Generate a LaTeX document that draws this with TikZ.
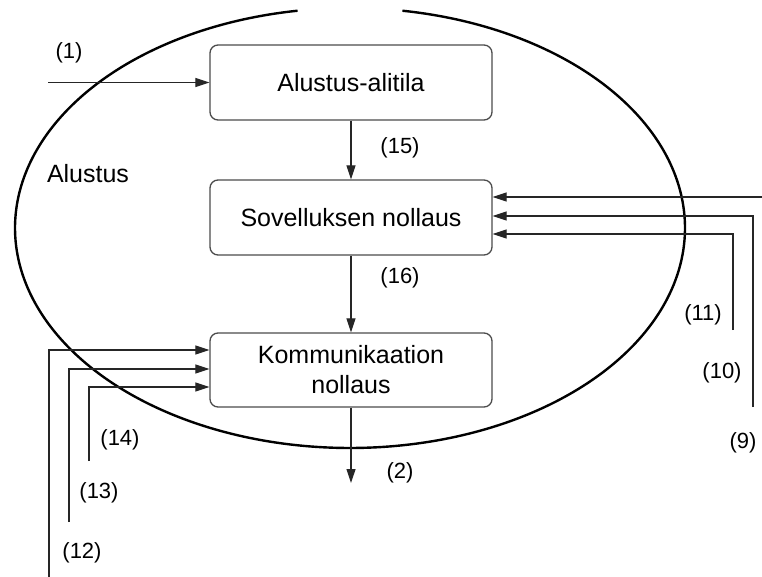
\documentclass[tikz,border=0pt]{standalone}
\usepackage{fontspec}
\setmainfont{Liberation Sans}
\usetikzlibrary{arrows.meta}
\begin{document}
\begin{tikzpicture}[x=1pt,y=-1pt,
  state/.style={draw=black!70, line width=1.3pt, rounded corners=8pt,
    minimum width=282pt, minimum height=75pt, align=center,
    font=\fontsize{25}{30}\selectfont, inner sep=0pt},
  flow/.style={draw=black!85, line width=1.2pt, -{Triangle[length=14pt,width=9pt]}},
  tag/.style={font=\fontsize{22}{26}\selectfont, inner sep=0pt},
  regionname/.style={font=\fontsize{25}{30}\selectfont, inner sep=0pt},
  region/.style={draw=black, line width=2.4pt}]
\useasboundingbox (0,0) rectangle (762,577);

% the initialisation region, open at the top
\draw[region] plot[domain=99:441, samples=240, smooth]
  ({350+335*cos(\x)}, {228-220*sin(\x)});
\node[regionname] (region) at (88,174) {Alustus};

% states
\node[state] (init) at (351,82.5) {Alustus-alitila};
\node[state] (app) at (351,217.5) {Sovelluksen nollaus};
\node[state, minimum height=74pt] (comm) at (351,370) {Kommunikaation\\nollaus};

% free ends of the transitions
\coordinate (e1) at (48,82.5);
\coordinate (x2) at (351,483);
\coordinate (e9) at (762,197);
\coordinate (e10) at (753,407);
\coordinate (e11) at (733,330);
\coordinate (e12) at (49,577);
\coordinate (e13) at (69,522);
\coordinate (e14) at (89,461);

% transitions
\draw[flow] (e1) -- (init.west);
\draw[flow] (init) -- (app);
\draw[flow] (app) -- (comm);
\draw[flow] (comm) -- (x2);

\draw[flow] (e9) -- (e9 -| app.east);
\draw[flow] (e10) |- ([yshift=1.5pt]app.east);
\draw[flow] (e11) |- ([yshift=-16.5pt]app.east);

\draw[flow] (e12) |- ([yshift=20pt]comm.west);
\draw[flow] (e13) |- ([yshift=1pt]comm.west);
\draw[flow] (e14) |- ([yshift=-17pt]comm.west);

% transition numbers
\node[tag] (t1) at (69,53) {(1)};
\node[tag] (t2) at (400,473) {(2)};
\node[tag] (t15) at (400,148) {(15)};
\node[tag] (t16) at (400,278) {(16)};
\node[tag] (t9) at (743,443) {(9)};
\node[tag] (t10) at (722,373) {(10)};
\node[tag] (t11) at (703,315) {(11)};
\node[tag] (t12) at (82,553) {(12)};
\node[tag] (t13) at (99,493) {(13)};
\node[tag] (t14) at (120,440) {(14)};
\end{tikzpicture}
\end{document}
